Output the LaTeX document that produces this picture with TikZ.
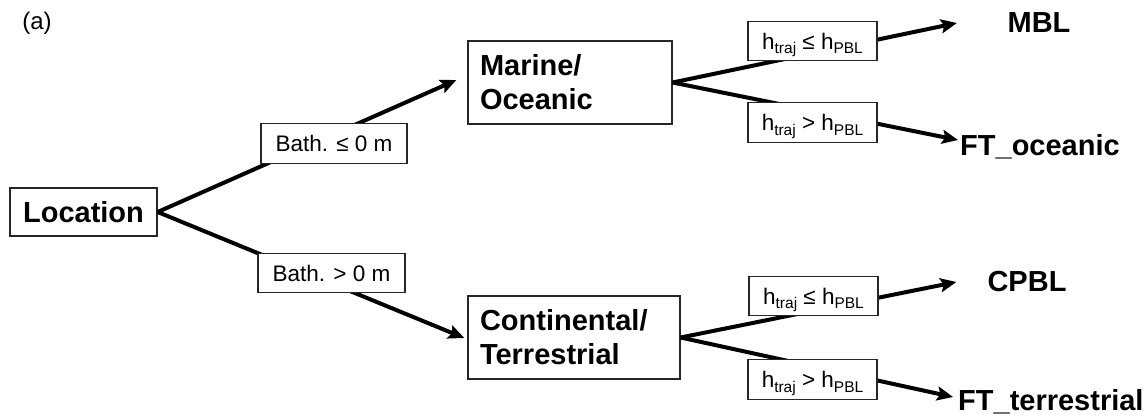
\documentclass[tikz,border=0pt]{standalone}
\usepackage{fontspec}
\setmainfont{Liberation Sans}
\usetikzlibrary{arrows.meta,calc}
\newcommand\mysub[1]{\raisebox{-4.5pt}[0pt][0pt]{\fontsize{15.5}{15.5}\selectfont #1}}
\begin{document}
\begin{tikzpicture}[x=1pt,y=-1pt,
  mainbox/.style={draw=black!85, line width=1.3pt, fill=white, font=\fontsize{29}{34}\selectfont\bfseries, inner sep=0pt},
  lbl/.style={draw=black!85, line width=1.3pt, fill=white, font=\fontsize{22.5}{26}\selectfont, inner sep=0pt, minimum height=39.5pt},
  term/.style={font=\fontsize{29}{34}\selectfont\bfseries, inner sep=0pt},
  arr/.style={line width=4pt, -{Stealth[length=16pt,width=14pt,inset=3pt]}},
]
\useasboundingbox (0,0) rectangle (1148,420);

\node[font=\fontsize{24}{28}\selectfont, inner sep=0pt] (lab) at (37,23) {(a)};

\node[mainbox, minimum width=147pt, minimum height=48pt] (loc) at (83.5,212) {Location};
\node[mainbox, minimum width=204pt, minimum height=83pt, text width=180pt, align=left] (mar) at (570,82.5) {Marine/\\Oceanic};
\node[mainbox, minimum width=212pt, minimum height=83pt, text width=188pt, align=left] (con) at (574,337.5) {Continental/\\Terrestrial};

\node[term] (mbl) at (1039,22.5) {MBL};
\node[term, anchor=base west] (fto) at (960,155) {FT\_oceanic};
\node[term] (cpbl) at (1027,281.5) {CPBL};
\node[term, anchor=base west] (ftt) at (958,410) {FT\_terrestrial};

\draw[arr] (loc.east) -- ($(mar.west)+(-11,-2.5)$);
\draw[arr] (loc.east) -- ($(con.west)+(-3,0.5)$);
\draw[arr] (mar.east) -- ($(mbl.west)+(-50.5,0.5)$);
\draw[arr] (mar.east) -- ($(fto.base west)+(-2,-15)$);
\draw[arr] (con.east) -- ($(cpbl.west)+(-31,0.5)$);
\draw[arr] (con.east) -- ($(ftt.base west)+(-5,-13)$);

\node[lbl, minimum width=146pt] (b1) at (334,143.5) {Bath. ≤ 0 m};
\node[lbl, minimum width=147pt] (b2) at (331.5,273) {Bath. > 0 m};
\node[lbl, minimum width=129pt] (h1) at (812.5,41) {h\mysub{traj} ≤ h\mysub{PBL}};
\node[lbl, minimum width=129pt] (h2) at (812.5,122.5) {h\mysub{traj} > h\mysub{PBL}};
\node[lbl, minimum width=129pt] (h3) at (813.5,296) {h\mysub{traj} ≤ h\mysub{PBL}};
\node[lbl, minimum width=129pt] (h4) at (812.5,379.5) {h\mysub{traj} > h\mysub{PBL}};
\end{tikzpicture}
\end{document}
